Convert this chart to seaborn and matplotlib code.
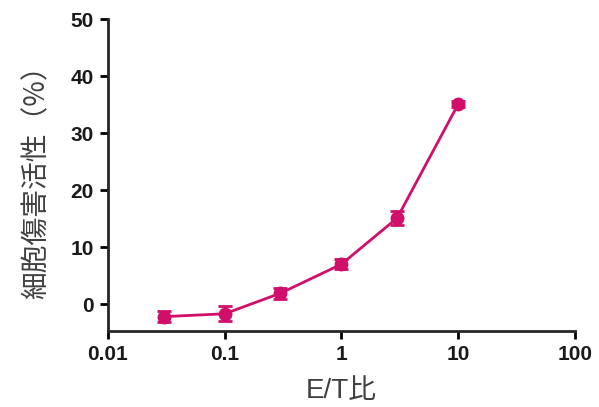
import numpy as np
import matplotlib
matplotlib.use('Agg')
import matplotlib.pyplot as plt
import pandas as pd
import seaborn as sns

# データ
et_ratio = [0.03, 0.1, 0.3, 1, 3, 10]
activity = [-2.2, -1.7, 1.9, 7.0, 15.1, 35.1]
err = [1.0, 1.3, 1.0, 0.9, 1.2, 0.5]
x_ticks = [0.01, 0.1, 1, 10, 100]
x_labels = ['0.01', '0.1', '1', '10', '100']
y_ticks = [0, 10, 20, 30, 40, 50]

sns.set_style('ticks')
plt.rcParams['font.family'] = ['Liberation Sans', 'Noto Sans CJK JP', 'DejaVu Sans']

color = '#D10F6B'
df = pd.DataFrame({'ET': et_ratio, 'act': activity, 'err': err})

fig = plt.figure(figsize=(5.99, 4.07), dpi=100)
ax = fig.add_axes([0.180, 0.187, 0.780, 0.766])

ax.errorbar(df['ET'], df['act'], yerr=df['err'], fmt='none', ecolor=color,
            elinewidth=2, capsize=5, capthick=2, zorder=2)
sns.lineplot(data=df, x='ET', y='act', color=color, linewidth=2,
             marker='o', markersize=10, markeredgewidth=0, ax=ax, zorder=3)

ax.set_xscale('log')
ax.set_xlim(0.01, 100)
ax.set_ylim(-4.7, 50)
ax.set_xticks(x_ticks)
ax.set_xticklabels(x_labels)
ax.minorticks_off()
ax.set_yticks(y_ticks)

for lab in ax.get_xticklabels() + ax.get_yticklabels():
    lab.set_fontweight('bold')
    lab.set_fontsize(15)
    lab.set_color('#1a1a1a')

ax.tick_params(width=2, length=6, color='black', pad=4)
for s in ['left', 'bottom']:
    ax.spines[s].set_linewidth(2)
sns.despine(ax=ax)

ax.set_xlabel('E/T比', fontsize=20, color='#404040', labelpad=10,
              family=['Liberation Sans', 'Noto Sans CJK JP'])
ax.set_ylabel('細胞傷害活性（%）', fontsize=20, color='#404040', labelpad=14,
              family=['Noto Sans CJK JP'])

fig.savefig('out.png', dpi=100)
